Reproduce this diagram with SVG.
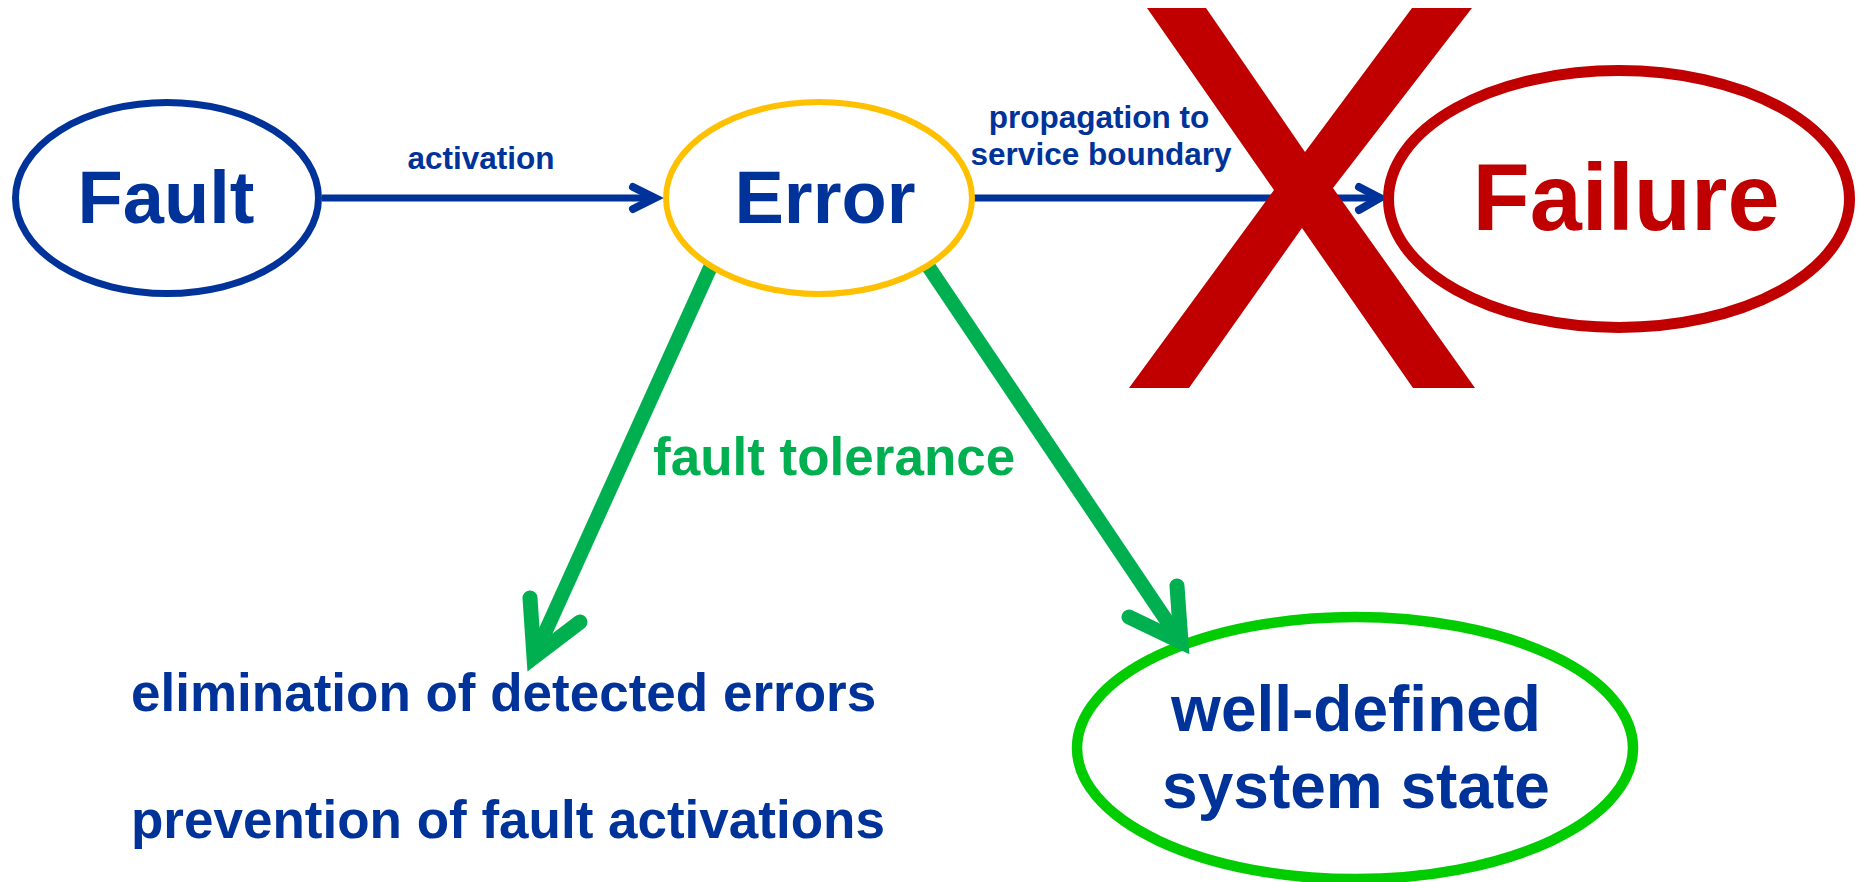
<svg xmlns="http://www.w3.org/2000/svg" width="1858" height="882" viewBox="0 0 1858 882">
<style>
  .t { font-family: "Liberation Sans", Arial, sans-serif; font-weight: bold; }
  .blue { fill: #003399; }
  .red { fill: #C00000; }
  .grn { fill: #00B050; }
  .bl { stroke: #003399; stroke-width: 7; fill: none; }
  .bhead { stroke: #003399; stroke-width: 8; fill: none; stroke-linecap: round; stroke-linejoin: miter; stroke-miterlimit: 10; }
  .gl { stroke: #00B050; stroke-width: 14.5; fill: none; }
  .ghead { stroke: #00B050; stroke-width: 15; fill: none; stroke-linecap: round; stroke-linejoin: miter; stroke-miterlimit: 10; }
</style>
<rect width="1858" height="882" fill="#ffffff"/>

<g id="node-state">
  <ellipse cx="1355" cy="748" rx="278" ry="131" fill="#ffffff" stroke="#00CC00" stroke-width="10.5"/>
  <text class="t blue" x="1356" y="731" font-size="64" text-anchor="middle">well-defined</text>
  <text class="t blue" x="1356" y="808" font-size="64" text-anchor="middle">system state</text>
</g>

<g id="connectors">
  <g id="edge-activation">
    <line class="bl" x1="322" y1="198" x2="656" y2="198"/>
    <polyline class="bhead" points="633,187 655,198 633,209"/>
    <text class="t blue" x="481" y="169" font-size="31.5" text-anchor="middle">activation</text>
  </g>
  <g id="edge-propagation">
    <line class="bl" x1="972" y1="198" x2="1380" y2="198"/>
    <polyline class="bhead" points="1359,187 1380,198 1359,210"/>
    <text class="t blue" x="1099" y="128" font-size="31.5" text-anchor="middle">propagation to</text>
    <text class="t blue" x="1101" y="165" font-size="31.5" text-anchor="middle">service boundary</text>
  </g>
  <g id="edge-tolerance-left">
    <line class="gl" x1="711" y1="266" x2="534" y2="657"/>
    <polyline class="ghead" points="530,598 534,657 580,622"/>
  </g>
  <g id="edge-tolerance-right">
    <line class="gl" x1="928" y1="266" x2="1181" y2="642"/>
    <polyline class="ghead" points="1177,586 1181,642 1129,617"/>
  </g>
  <text class="t grn" x="653" y="475" font-size="53">fault tolerance</text>
</g>

<g id="node-fault">
  <ellipse cx="167" cy="198" rx="151.5" ry="95.5" fill="#ffffff" stroke="#003399" stroke-width="7"/>
  <text class="t blue" x="166" y="223" font-size="74" text-anchor="middle">Fault</text>
</g>

<g id="node-error">
  <ellipse cx="819" cy="198" rx="153" ry="96" fill="#ffffff" stroke="#FFC000" stroke-width="6"/>
  <text class="t blue" x="825" y="223" font-size="74" text-anchor="middle">Error</text>
</g>

<g id="node-failure">
  <ellipse cx="1619" cy="199" rx="230.5" ry="128.5" fill="#ffffff" stroke="#C00000" stroke-width="11"/>
  <text class="t red" x="1626" y="230" font-size="95" text-anchor="middle" textLength="307" lengthAdjust="spacingAndGlyphs">Failure</text>
</g>

<g id="cross">
  <polygon fill="#C00000" points="1147,8 1206,8 1305,152 1412,8 1472,8 1333,188 1475,388 1413,388 1302,228 1189,388 1129,388 1274,190"/>
</g>

<g id="outcomes">
  <text class="t blue" x="131" y="711" font-size="53">elimination of detected errors</text>
  <text class="t blue" x="131" y="838" font-size="53">prevention of fault activations</text>
</g>
</svg>
